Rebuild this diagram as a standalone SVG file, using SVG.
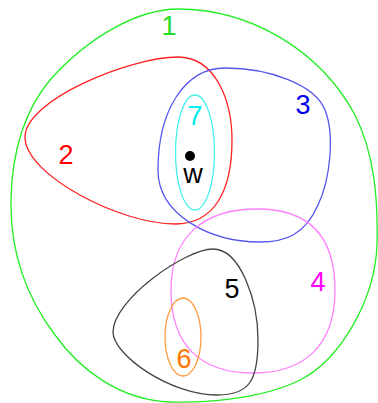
<svg xmlns="http://www.w3.org/2000/svg" width="378" height="403" viewBox="0 0 378 403">
<style>
.s{fill:none;stroke-width:1.3}
.t{font-family:"Liberation Sans",Arial,sans-serif;font-size:27px;text-anchor:middle}
</style>
<rect width="378" height="403" fill="#fff"/>
<g id="set1">
<path class="s" stroke="#22ee22" d="M178,9 C250,9 320,50 355,115 C375,155 378,200 377,245 C375,300 340,360 300,380 C260,400 200,403 170,402 C120,400 80,370 55,335 C25,295 10,250 11,200 C12,150 25,110 50,80 C90,35 140,9 178,9 Z"/>
<text class="t" x="169" y="35" fill="#22dd22">1</text>
</g>
<g id="set2">
<path class="s" stroke="#ff2020" d="M25,137 C25,100 130,57 178,57 C215,57 232,100 232,140 C232,190 215,224 175,224 C120,224 25,175 25,137 Z"/>
<text class="t" x="66" y="164" fill="#ff0000">2</text>
</g>
<g id="set3">
<path class="s" stroke="#5555ee" d="M225,68 C270,68 315,85 325,110 C335,135 330,180 318,205 C305,235 285,242 260,242 C210,242 158,215 158,170 C158,110 185,68 225,68 Z"/>
<text class="t" x="303" y="114" fill="#0000ee">3</text>
</g>
<g id="set7">
<ellipse class="s" stroke="#44eeee" cx="195" cy="152.5" rx="19.5" ry="57.5"/>
<text class="t" x="195" y="125" fill="#00eeee">7</text>
</g>
<g id="w">
<circle cx="190" cy="156" r="5" fill="#000"/>
<text class="t" x="193" y="183" fill="#000">w</text>
</g>
<g id="set4">
<path class="s" stroke="#ff80ff" d="M257,209 C312,209 335,240 335,290 C335,345 305,373 253,373 C200,373 171,345 171,290 C171,235 205,209 257,209 Z"/>
<text class="t" x="318" y="291" fill="#ff00ff">4</text>
</g>
<g id="set5">
<path class="s" stroke="#444444" d="M213,249 C240,249 258,300 258,340 C258,380 250,395 217,395 C170,395 113,355 113,332 C113,300 185,249 213,249 Z"/>
<text class="t" x="232" y="298" fill="#000">5</text>
</g>
<g id="set6">
<ellipse class="s" stroke="#ff9a40" cx="183" cy="337" rx="18" ry="39"/>
<text class="t" x="184" y="368" fill="#ff7700">6</text>
</g>
<g id="connectors"/>
</svg>
